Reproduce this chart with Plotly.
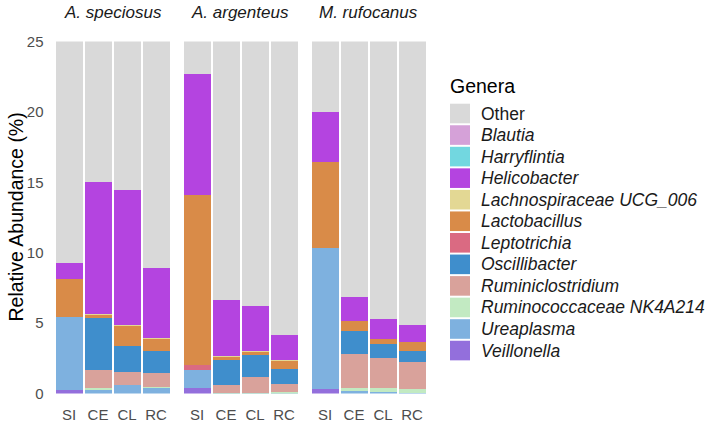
import plotly.graph_objects as go

W, H = 709, 433

hosts = ["A. speciosus", "A. argenteus", "M. rufocanus"]
sites = ["SI", "CE", "CL", "RC"]

# legend order (top to bottom)
genera = ["Other", "Blautia", "Harryflintia", "Helicobacter", "Lachnospiraceae UCG_006",
          "Lactobacillus", "Leptotrichia", "Oscillibacter", "Ruminiclostridium",
          "Ruminococcaceae NK4A214", "Ureaplasma", "Veillonella"]
colors = ["#d9d9d9", "#d5a1d8", "#72d7e0", "#b444e0", "#e3d894",
          "#d98b48", "#da6a82", "#3f8ecc", "#d9a29b",
          "#c2eac2", "#7eb1df", "#936fdc"]

# values per column: A.spe SI,CE,CL,RC | A.arg SI,CE,CL,RC | M.ruf SI,CE,CL,RC
other             = [90.72, 84.95, 85.50, 91.04, 77.28, 93.30, 93.78, 95.80, 79.99, 93.09, 94.68, 95.11]
blautia           = [0, 0, 0, 0, 0, 0, 0, 0, 0, 0, 0, 0]
harryflintia      = [0, 0, 0, 0, 0, 0, 0, 0, 0, 0, 0, 0]
helicobacter      = [1.13, 9.35, 9.58, 4.98, 8.62, 4.02, 3.14, 1.78, 3.50, 1.76, 1.38, 1.21]
lachnospiraceae   = [0, 0.03, 0.06, 0.05, 0, 0.04, 0.04, 0.07, 0, 0, 0, 0]
lactobacillus     = [2.65, 0.24, 1.44, 0.91, 12.06, 0.24, 0.26, 0.55, 6.15, 0.66, 0.36, 0.62]
leptotrichia      = [0, 0, 0, 0, 0.34, 0, 0, 0, 0, 0, 0, 0]
oscillibacter     = [0, 3.73, 1.83, 1.52, 0, 1.76, 1.55, 1.11, 0, 1.66, 1.02, 0.76]
ruminiclostridium = [0, 1.30, 0.97, 1.00, 0, 0.54, 1.13, 0.56, 0, 2.38, 2.16, 1.94]
ruminococcaceae   = [0, 0.07, 0, 0.05, 0, 0.05, 0.05, 0.08, 0, 0.25, 0.23, 0.26]
ureaplasma        = [5.20, 0.33, 0.62, 0.45, 1.25, 0.05, 0.05, 0.05, 10.00, 0.20, 0.17, 0.10]
veillonella       = [0.30, 0, 0, 0, 0.45, 0, 0, 0, 0.36, 0, 0, 0]

values = {
    "Other": other, "Blautia": blautia, "Harryflintia": harryflintia,
    "Helicobacter": helicobacter, "Lachnospiraceae UCG_006": lachnospiraceae,
    "Lactobacillus": lactobacillus, "Leptotrichia": leptotrichia,
    "Oscillibacter": oscillibacter, "Ruminiclostridium": ruminiclostridium,
    "Ruminococcaceae NK4A214": ruminococcaceae, "Ureaplasma": ureaplasma,
    "Veillonella": veillonella,
}

yticks = [0, 5, 10, 15, 20, 25]

FONT = "Liberation Sans, Arial, sans-serif"


def px(x):
    return x / W


def py(y):
    return 1 - y / H


panel_left = [54.5, 182.5, 310.5]
panel_w = 116
plot_top, plot_bot = 41.5, 393.5

fig = go.Figure()

# stack bottom first
for g in reversed(genera):
    col = colors[genera.index(g)]
    for p in range(3):
        sfx = "" if p == 0 else str(p + 1)
        fig.add_trace(go.Bar(
            x=sites, y=values[g][p * 4:(p + 1) * 4],
            xaxis="x" + sfx, yaxis="y" + sfx,
            marker=dict(color=col, line=dict(width=0)),
            width=0.9, name=g, showlegend=False,
            hovertemplate=g + ": %{y}<extra></extra>",
        ))

layout = dict(
    width=W, height=H,
    margin=dict(l=0, r=0, t=0, b=0, autoexpand=False),
    paper_bgcolor="white", plot_bgcolor="white",
    barmode="stack", bargap=0,
    font=dict(family=FONT),
    showlegend=False,
)
for p in range(3):
    sfx = "" if p == 0 else str(p + 1)
    layout["xaxis" + sfx] = dict(
        domain=[px(panel_left[p]), px(panel_left[p] + panel_w)],
        anchor="y" + sfx, range=[-0.5, 3.5], type="category",
        categoryorder="array", categoryarray=sites,
        showgrid=False, zeroline=False, showline=False, automargin=False,
        ticks="outside", ticklen=7, tickcolor="rgba(0,0,0,0)",
        tickfont=dict(size=15, color="#4d4d4d", family=FONT),
        fixedrange=True,
    )
    layout["yaxis" + sfx] = dict(
        domain=[py(plot_bot), py(plot_top)],
        anchor="x" + sfx, range=[0, 25],
        tickvals=yticks, ticktext=[str(v) for v in yticks],
        showticklabels=(p == 0), automargin=False,
        showgrid=False, zeroline=False, showline=False,
        ticks="outside" if p == 0 else "", ticklen=7, tickcolor="rgba(0,0,0,0)",
        tickfont=dict(size=15, color="#4d4d4d", family=FONT),
        fixedrange=True,
    )
    if p > 0:
        layout["yaxis" + sfx]["matches"] = "y"
fig.update_layout(**layout)

annotations = []
shapes = []
# facet titles
for p, h in enumerate(hosts):
    annotations.append(dict(
        x=px(panel_left[p] + panel_w / 2), y=py(12.5), xref="paper", yref="paper",
        text="<i>" + h + "</i>", showarrow=False, xanchor="center", yanchor="middle",
        font=dict(size=17, color="#1a1a1a", family=FONT),
    ))
# y-axis title
annotations.append(dict(
    x=px(15), y=py((plot_top + plot_bot) / 2), xref="paper", yref="paper",
    text="Relative Abundance (%)", textangle=-90, showarrow=False,
    xanchor="center", yanchor="middle",
    font=dict(size=19.5, color="black", family=FONT),
))
# legend
annotations.append(dict(
    x=px(448), y=py(86), xref="paper", yref="paper", text="Genera",
    showarrow=False, xanchor="left", yanchor="middle",
    font=dict(size=19.5, color="black", family=FONT),
))
row0, step = 113.5, 21.55
for i, g in enumerate(genera):
    cy = row0 + i * step
    shapes.append(dict(
        type="rect", xref="paper", yref="paper",
        x0=px(450), x1=px(470), y0=py(cy - 9.8), y1=py(cy + 9.8),
        fillcolor=colors[i], line=dict(width=0),
    ))
    label = g if g == "Other" else "<i>" + g + "</i>"
    annotations.append(dict(
        x=px(479), y=py(cy), xref="paper", yref="paper", text=label,
        showarrow=False, xanchor="left", yanchor="middle",
        font=dict(size=17.5, color="#1a1a1a", family=FONT),
    ))

fig.update_layout(annotations=annotations, shapes=shapes)

fig.write_html(
    "out.html",
    config={"displayModeBar": False},
    post_script="document.body.style.margin='0';document.body.style.overflow='hidden';",
)
